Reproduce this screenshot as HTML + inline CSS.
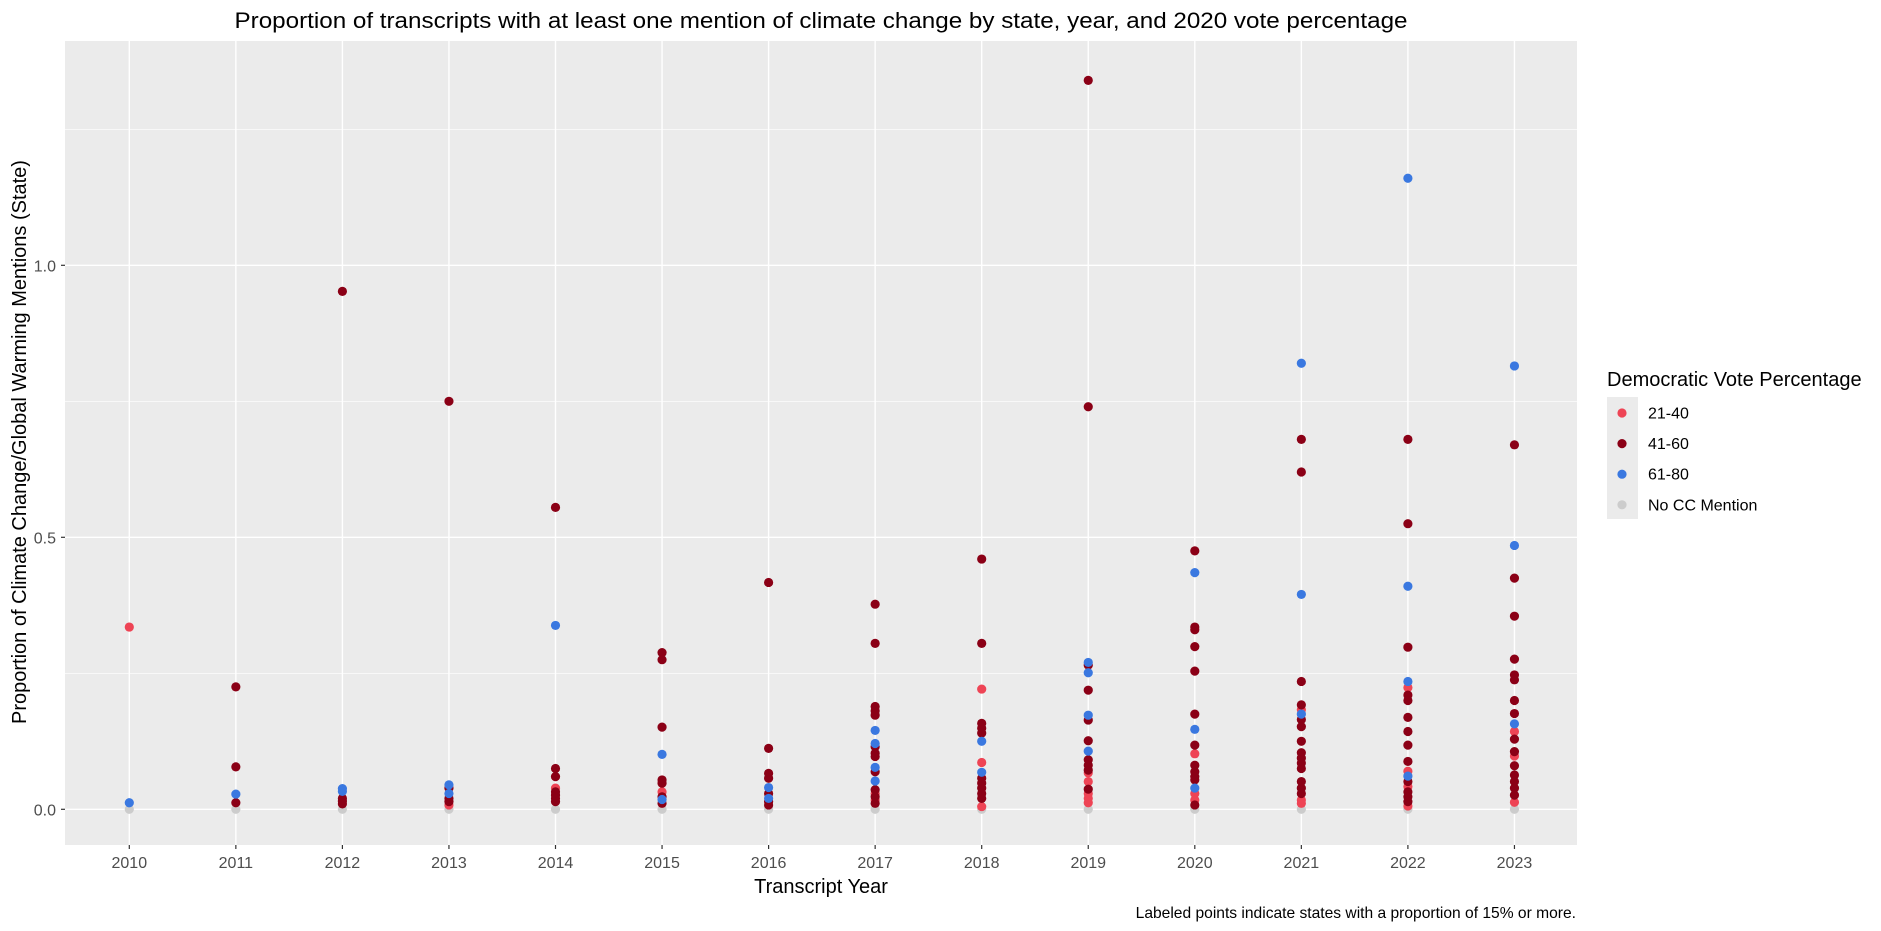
<!DOCTYPE html>
<html><head><meta charset="utf-8"><style>
html,body{margin:0;padding:0;background:#fff;}
svg{display:block;font-family:"Liberation Sans",Arial,sans-serif;}
</style></head><body>
<svg id="chart" width="1881" height="931" viewBox="0 0 1881 931" xmlns="http://www.w3.org/2000/svg">
<rect width="1881" height="931" fill="#fff"/>
<text x="821" y="28" text-anchor="middle" font-size="22" textLength="1173" lengthAdjust="spacingAndGlyphs" fill="#000">Proportion of transcripts with at least one mention of climate change by state, year, and 2020 vote percentage</text>
<g id="panel"></g>
<text x="821" y="893" text-anchor="middle" font-size="20" fill="#000">Transcript Year</text>
<text transform="translate(26,442) rotate(-90)" text-anchor="middle" font-size="20" fill="#000">Proportion of Climate Change/Global Warming Mentions (State)</text>
<text x="1576" y="918" text-anchor="end" font-size="15.6" fill="#000">Labeled points indicate states with a proportion of 15% or more.</text>
<g>
<text x="1607" y="386" font-size="20" fill="#000">Democratic Vote Percentage</text>
<rect x="1607" y="397" width="31" height="122" fill="#ebebeb"/>
<g id="legend-items"></g>
</g>
</svg>
<script>
const years = [2010,2011,2012,2013,2014,2015,2016,2017,2018,2019,2020,2021,2022,2023];
const yTicks = [0, 0.5, 1.0];
const yTickLabels = ["0.0","0.5","1.0"];
const yMinor = [0.25, 0.75, 1.25];
const groups = ["21-40","41-60","61-80","No CC Mention"];
const groupColors = ["#ee4455","#8b0016","#3a78e0","#cccccc"];
// points per group: [year, value]
const g2140 = [[2010,0.335],[2013,0.008],[2014,0.039],[2015,0.032],[2017,0.029],[2017,0.017],[2018,0.221],[2018,0.086],[2018,0.005],[2019,0.067],[2019,0.051],[2019,0.029],[2019,0.02],[2019,0.012],[2020,0.102],[2020,0.029],[2020,0.017],[2021,0.183],[2021,0.017],[2021,0.011],[2022,0.224],[2022,0.07],[2022,0.042],[2022,0.006],[2023,0.143],[2023,0.098],[2023,0.013]];
const g4160 = [[2011,0.225],[2011,0.078],[2011,0.012],[2012,0.952],[2012,0.02],[2012,0.015],[2012,0.01],[2013,0.75],[2013,0.039],[2013,0.02],[2013,0.014],[2014,0.555],[2014,0.075],[2014,0.06],[2014,0.032],[2014,0.026],[2014,0.02],[2014,0.014],[2015,0.288],[2015,0.275],[2015,0.151],[2015,0.054],[2015,0.048],[2015,0.023],[2015,0.011],[2016,0.417],[2016,0.112],[2016,0.066],[2016,0.057],[2016,0.029],[2016,0.014],[2016,0.008],[2017,0.377],[2017,0.305],[2017,0.189],[2017,0.181],[2017,0.173],[2017,0.115],[2017,0.103],[2017,0.097],[2017,0.069],[2017,0.036],[2017,0.023],[2017,0.011],[2018,0.46],[2018,0.305],[2018,0.158],[2018,0.149],[2018,0.14],[2018,0.057],[2018,0.048],[2018,0.039],[2018,0.029],[2018,0.02],[2019,1.34],[2019,0.74],[2019,0.265],[2019,0.219],[2019,0.164],[2019,0.126],[2019,0.091],[2019,0.081],[2019,0.072],[2019,0.037],[2020,0.475],[2020,0.335],[2020,0.33],[2020,0.299],[2020,0.254],[2020,0.175],[2020,0.118],[2020,0.081],[2020,0.069],[2020,0.06],[2020,0.054],[2020,0.008],[2021,0.68],[2021,0.62],[2021,0.235],[2021,0.192],[2021,0.165],[2021,0.152],[2021,0.125],[2021,0.104],[2021,0.094],[2021,0.085],[2021,0.075],[2021,0.051],[2021,0.039],[2021,0.029],[2022,0.68],[2022,0.525],[2022,0.298],[2022,0.21],[2022,0.2],[2022,0.169],[2022,0.143],[2022,0.118],[2022,0.088],[2022,0.051],[2022,0.032],[2022,0.023],[2022,0.014],[2023,0.67],[2023,0.425],[2023,0.355],[2023,0.276],[2023,0.247],[2023,0.238],[2023,0.2],[2023,0.176],[2023,0.129],[2023,0.106],[2023,0.08],[2023,0.063],[2023,0.051],[2023,0.039],[2023,0.026]];
const g6180 = [[2010,0.012],[2011,0.028],[2012,0.038],[2012,0.033],[2013,0.045],[2013,0.029],[2014,0.338],[2015,0.101],[2015,0.018],[2016,0.04],[2016,0.02],[2017,0.145],[2017,0.121],[2017,0.077],[2017,0.052],[2018,0.125],[2018,0.068],[2019,0.27],[2019,0.251],[2019,0.173],[2019,0.107],[2020,0.435],[2020,0.147],[2020,0.039],[2021,0.82],[2021,0.395],[2021,0.175],[2022,1.16],[2022,0.41],[2022,0.235],[2022,0.061],[2023,0.815],[2023,0.485],[2023,0.157]];
const gNone = [[2010,0],[2011,0],[2012,0],[2013,0],[2014,0],[2015,0],[2016,0],[2017,0],[2018,0],[2019,0],[2020,0],[2021,0],[2022,0],[2023,0]];

const NS = "http://www.w3.org/2000/svg";
const PL = 65, PR = 1577, PT = 41, PB = 845;
const X0 = 129.3, XSTEP = 106.55;
const Y0 = 809.3, YSCALE = 544;
function xPos(yr){ return X0 + (yr - years[0]) * XSTEP; }
function yPos(v){ return Y0 - v * YSCALE; }
function mk(tag, attrs){ const e = document.createElementNS(NS, tag); for (const k in attrs) e.setAttribute(k, attrs[k]); return e; }

const panel = document.getElementById('panel');
const bg = mk('rect', {x:PL, y:PT, width:PR-PL, height:PB-PT, fill:'#ebebeb'});


panel.appendChild(bg);
yMinor.forEach(v => {
  const l = mk('line', {x1:PL, x2:PR, y1:yPos(v), y2:yPos(v), stroke:'#fff', 'stroke-width':0.7});
  
  
  panel.appendChild(l);
});
yTicks.forEach((v, i) => {
  const l = mk('line', {x1:PL, x2:PR, y1:yPos(v), y2:yPos(v), stroke:'#fff', 'stroke-width':1.4});
  
  
  panel.appendChild(l);
  const t = mk('line', {x1:PL-4, x2:PL, y1:yPos(v), y2:yPos(v), stroke:'#333', 'stroke-width':1.2});
  
  
  panel.appendChild(t);
  const tx = mk('text', {x:PL-9, y:yPos(v)+6, 'text-anchor':'end', 'font-size':16, fill:'#4d4d4d'});
  tx.textContent = yTickLabels[i];
  
  
  panel.appendChild(tx);
});
years.forEach(yr => {
  const l = mk('line', {x1:xPos(yr), x2:xPos(yr), y1:PT, y2:PB, stroke:'#fff', 'stroke-width':1.4});
  
  
  panel.appendChild(l);
  const t = mk('line', {x1:xPos(yr), x2:xPos(yr), y1:PB, y2:PB+4, stroke:'#333', 'stroke-width':1.2});
  
  
  panel.appendChild(t);
  const tx = mk('text', {x:xPos(yr), y:PB+23, 'text-anchor':'middle', 'font-size':16, fill:'#4d4d4d'});
  tx.textContent = String(yr);
  
  
  panel.appendChild(tx);
});
const series = [gNone, g2140, g4160, g6180];
const seriesColor = [groupColors[3], groupColors[0], groupColors[1], groupColors[2]];
series.forEach((pts, si) => {
  pts.forEach(p => {
    const c = mk('circle', {cx:xPos(p[0]), cy:yPos(p[1]), r:4.6, fill:seriesColor[si]});
    
    
    panel.appendChild(c);
  });
});
const leg = document.getElementById('legend-items');
groups.forEach((g, i) => {
  const cy = 413 + i * 30.6;
  const c = mk('circle', {cx:1622, cy:cy, r:4.6, fill:groupColors[i]});
  
  
  leg.appendChild(c);
  const t = mk('text', {x:1648, y:cy+5.5, 'font-size':16, fill:'#000'});
  t.textContent = g;
  
  
  leg.appendChild(t);
});
</script>
</body></html>
